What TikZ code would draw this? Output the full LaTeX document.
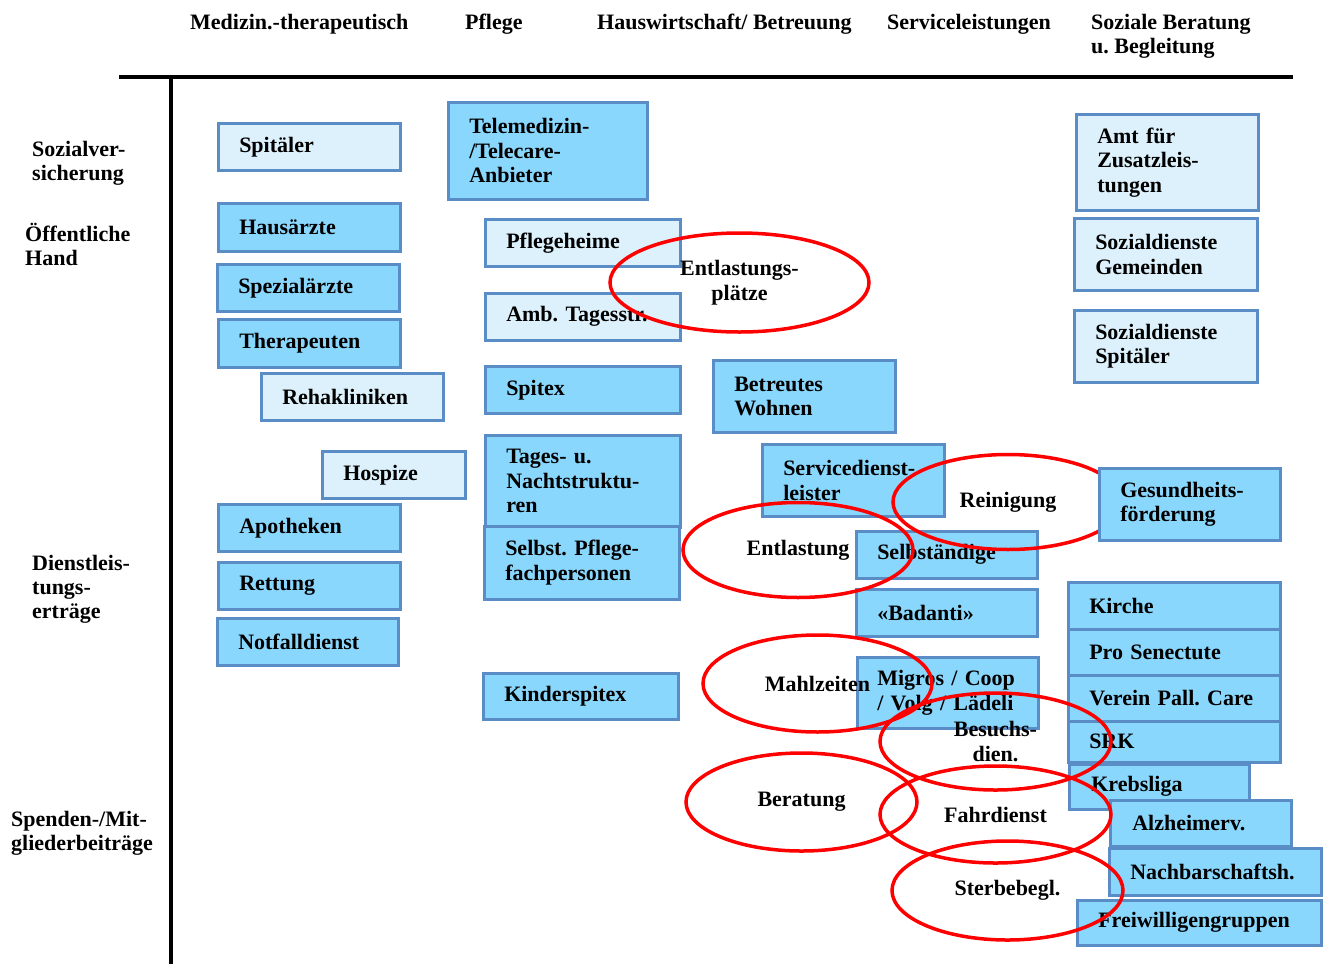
\documentclass[tikz,border=0pt]{standalone}
\usepackage{fontspec}
\setmainfont{Liberation Serif}
\usepackage{tikz}
\usetikzlibrary{shapes.geometric}
\frenchspacing
\definecolor{palefill}{HTML}{DDF1FC}
\definecolor{deepfill}{HTML}{8AD7FD}
\definecolor{boxline}{HTML}{5A8DC6}
\tikzset{basebox/.style={draw=boxline, line width=2.5pt, rectangle, anchor=north west, inner xsep=21pt, inner ysep=0pt, align=left, font=\bfseries\fontsize{22}{24.5}\selectfont}}
\tikzset{palebox/.style={basebox, fill=palefill}, deepbox/.style={basebox, fill=deepfill}}
\tikzset{redoval/.style={draw=red, line width=3.5pt, ellipse, inner sep=0pt, align=center, font=\bfseries\fontsize{22}{24.5}\selectfont}}
\tikzset{colhead/.style={anchor=base west, inner sep=0pt, align=left, font=\bfseries\fontsize{22}{24}\selectfont}}

\begin{document}
\begin{tikzpicture}[x=1pt, y=-1pt]
\useasboundingbox (0,0) rectangle (1325,964);
\node[colhead] (colmed) at (190,29) {Medizin.-therapeutisch};
\node[colhead] (colpfl) at (465,29) {Pflege};
\node[colhead] (colhaus) at (597,29) {Hauswirtschaft/ Betreuung};
\node[colhead] (colserv) at (887,29) {Serviceleistungen};
\node[colhead] (colsoz) at (1091,53) {Soziale Beratung\\u. Begleitung};
\node[colhead] (rowsv) at (32,180) {Sozialver-\\sicherung};
\node[colhead] (rowoeff) at (25,265) {Öffentliche\\Hand};
\node[colhead] (rowdl) at (32,618) {Dienstleis-\\tungs-\\erträge};
\node[colhead] (rowsp) at (11,850) {Spenden-/Mit-\\gliederbeiträge};
\coordinate (axleft) at (119,77);
\coordinate (axright) at (1293,77);
\coordinate (axtop) at (171,77);
\coordinate (axbot) at (171,964);
\draw[line width=4pt] (axleft) -- (axright);
\draw[line width=4pt] (axtop) -- (axbot);

\node[palebox, minimum width=182, minimum height=47, text width=140] (spitaeler) at (217,122) {Spitäler};
\node[deepbox, minimum width=199, minimum height=97, text width=157] (telemed) at (447,101) {Telemedizin-\\/Telecare-\\Anbieter};
\node[deepbox, minimum width=182, minimum height=48, text width=140] (hausaerzte) at (217,202) {Hausärzte};
\node[deepbox, minimum width=182, minimum height=47, text width=140] (spezaerzte) at (216,263) {Spezialärzte};
\node[deepbox, minimum width=182, minimum height=48, text width=140] (therapeuten) at (217,318) {Therapeuten};
\node[palebox, minimum width=182, minimum height=47, text width=140] (reha) at (260,372) {Rehakliniken};
\node[palebox, minimum width=143, minimum height=47, text width=101] (hospize) at (321,450) {Hospize};
\node[deepbox, minimum width=182, minimum height=47, text width=140] (apotheken) at (217,503) {Apotheken};
\node[deepbox, minimum width=182, minimum height=47, text width=140] (rettung) at (217,561) {Rettung};
\node[deepbox, minimum width=181, minimum height=47, text width=139] (notfall) at (216,617) {Notfalldienst};

\node[palebox, minimum width=195, minimum height=47, text width=153] (pflegeheime) at (484,218) {Pflegeheime};
\node[palebox, minimum width=195, minimum height=47, text width=153] (tagesstr) at (484,292) {Amb. Tagesstr.};
\node[deepbox, minimum width=195, minimum height=47, text width=153] (spitex) at (484,365) {Spitex};
\node[deepbox, minimum width=195, minimum height=92, text width=153] (tagesnacht) at (484,434) {Tages- u.\\Nachtstruktu-\\ren};
\node[deepbox, minimum width=195, minimum height=73, text width=153] (selbstpfl) at (483,525) {Selbst. Pflege-\\fachpersonen};
\node[deepbox, minimum width=195, minimum height=46, text width=153] (kinderspitex) at (482,672) {Kinderspitex};

\node[deepbox, minimum width=182, minimum height=72, text width=140] (betreut) at (712,359) {Betreutes\\Wohnen};
\node[deepbox, minimum width=182, minimum height=72, text width=140] (servicedl) at (761,443) {Servicedienst-\\leister};
\node[deepbox, minimum width=181, minimum height=47, text width=139] (selbstaendige) at (855,530) {Selbständige};
\node[deepbox, minimum width=181, minimum height=47, text width=139] (badanti) at (855,588) {«Badanti»};
\node[deepbox, minimum width=181, minimum height=71, text width=141, inner xsep=20pt] (migros) at (856,656) {Migros / Coop\\/ Volg / Lädeli};

\node[palebox, minimum width=182, minimum height=96, text width=140] (amt) at (1075,113) {Amt für\\Zusatzleis-\\tungen};
\node[palebox, minimum width=183, minimum height=72, text width=141] (sozgem) at (1073,217) {Sozialdienste\\Gemeinden};
\node[palebox, minimum width=183, minimum height=72, text width=141] (sozspit) at (1073,309) {Sozialdienste\\Spitäler};
\node[deepbox, minimum width=212, minimum height=47, text width=170] (kirche) at (1067,581) {Kirche};
\node[deepbox, minimum width=212, minimum height=46, text width=170] (prosen) at (1067,628) {Pro Senectute};
\node[deepbox, minimum width=212, minimum height=46, text width=170] (verein) at (1067,674) {Verein Pall. Care};
\node[deepbox, minimum width=212, minimum height=41, text width=170] (srk) at (1067,720) {SRK};
\node[deepbox, minimum width=180, minimum height=45, text width=136, inner xsep=22pt] (krebsliga) at (1068,763) {Krebsliga};
\node[deepbox, minimum width=181, minimum height=46, text width=137, inner xsep=22pt] (alzheimer) at (1109,799) {Alzheimerv.};
\node[deepbox, minimum width=212, minimum height=47, text width=170] (nachbar) at (1108,847) {Nachbarschaftsh.};
\node[deepbox, minimum width=244, minimum height=45, text width=202] (freiwillig) at (1076,899) {Freiwilligengruppen};

\node[redoval, minimum width=259, minimum height=99] (entlplaetze) at (739.5,282.5) {Entlastungs-\\plätze};
\node[redoval, minimum width=230, minimum height=95] (reinigung) at (1008,502) {Reinigung};
\node[redoval, minimum width=230, minimum height=95] (entlastung) at (798,550) {Entlastung};
\node[redoval, minimum width=229, minimum height=97] (mahlzeiten) at (817.5,683.5) {Mahlzeiten};
\node[redoval, minimum width=231, minimum height=97] (besuchs) at (995.5,741.5) {Besuchs-\\dien.};
\node[redoval, minimum width=231, minimum height=98] (beratung) at (801.5,802) {Beratung};
\node[redoval, minimum width=231, minimum height=97] (fahrdienst) at (995.5,814.5) {Fahrdienst};
\node[redoval, minimum width=231, minimum height=99] (sterbebegl) at (1007.5,890.5) {Sterbebegl.};

\node[deepbox, minimum width=181, minimum height=72, text width=139] (gesund) at (1098,467) {Gesundheits-\\förderung};
\end{tikzpicture}
\end{document}
